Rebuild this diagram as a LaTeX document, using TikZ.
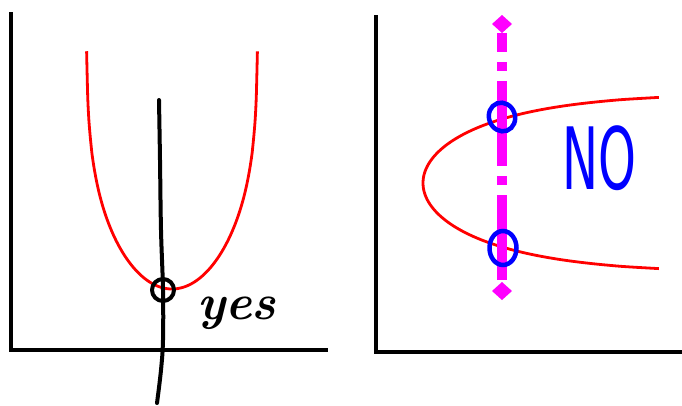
\documentclass[tikz,border=0pt]{standalone}
\usepackage{fontspec}
\setsansfont{DejaVu Sans}
\definecolor{magpen}{RGB}{255,0,255}
\definecolor{redpen}{RGB}{255,0,0}
\definecolor{bluepen}{RGB}{0,0,255}
\begin{document}
\begin{tikzpicture}[x=1pt,y=-1pt,
  axis/.style={line width=3.4pt,black},
  curve/.style={line width=2.8pt,redpen,line join=round},
  pen/.style={line width=4pt,black,line cap=round,line join=round},
  bpen/.style={line width=4.5pt,bluepen},
  mag/.style={line width=9.5pt,magpen}]
\useasboundingbox (0,0) rectangle (682,405);
% left panel
\draw[axis] (11,12) -- (11,350) -- (328,350);
\draw[curve] plot[domain=-85.4:85.4,samples=161,smooth] ({172+\x},{289-(41.7*(-ln(1-(\x/86)^2))+60.4*(\x/86)^2)});
\draw[pen] plot[smooth,tension=0.6] coordinates {(159,100) (160,160) (161,230) (163,290) (163,340) (161,370) (157,403)};
\draw[pen] (163,290) circle (11);
\node[anchor=base west,inner sep=0pt] (yes) at (197,319) {\fontsize{50}{50}\selectfont\bfseries\itshape yes};
% right panel
\draw[axis] (376,15) -- (376,352) -- (682,352);
\draw[curve] plot[domain=-85.6:85.6,samples=161,smooth] ({423+(86.8*(-ln(1-(\x/90)^2))+35.5*(\x/90)^2)},{183+\x});
\draw[mag,dash pattern=on 85pt off 10pt on 9pt off 10pt,dash phase=66pt] (502,33) -- (502,283);
\fill[magpen] (502,15) -- (512,24) -- (502,33) -- (492,24) -- cycle;
\fill[magpen] (502,282) -- (512,291) -- (502,300) -- (492,291) -- cycle;
\draw[bpen] (502,117) ellipse[x radius=13,y radius=14.5,rotate=20];
\draw[bpen] (503,248) ellipse[x radius=13.5,y radius=17];
\node[anchor=center,inner sep=0pt,text=bluepen] (no) at (599,158) {\scalebox{0.56}[1]{\fontsize{86}{86}\selectfont\sffamily NO}};
\end{tikzpicture}
\end{document}
